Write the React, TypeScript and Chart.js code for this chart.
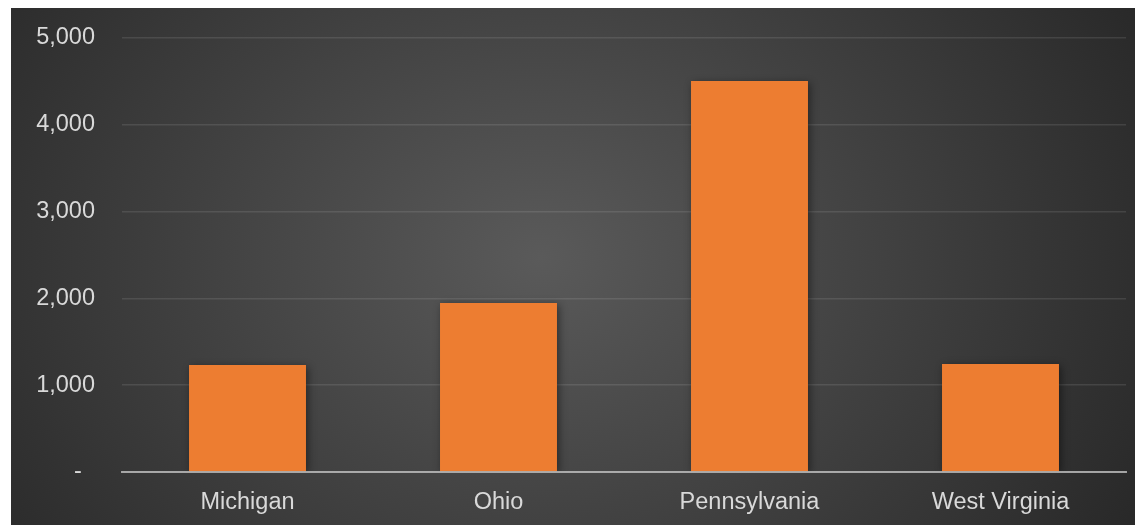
import React, { useEffect, useRef } from "react";
import { Chart, registerables } from "chart.js";

Chart.register(...registerables);

const categories = ["Michigan", "Ohio", "Pennsylvania", "West Virginia"];
const values = [1233, 1947, 4505, 1244];
const yTicks = [0, 1000, 2000, 3000, 4000, 5000];

const bgPlugin = {
  id: "bgGrad",
  beforeDraw(chart: any) {
    const { ctx, width, height } = chart;
    ctx.save();
    const cx = 530;
    const cy = 250;
    ctx.translate(cx, cy);
    ctx.scale(1.25, 1);
    const g = ctx.createRadialGradient(0, 0, 0, 0, 0, 560);
    g.addColorStop(0, "#5a5a5a");
    g.addColorStop(1, "#272727");
    ctx.fillStyle = g;
    ctx.fillRect(-cx / 1.25 - 10, -cy - 10, width / 1.25 + 20, height + 20);
    ctx.restore();
  },
  beforeDatasetsDraw(chart: any) {
    const ctx = chart.ctx;
    ctx.save();
    ctx.shadowColor = "rgba(0,0,0,0.45)";
    ctx.shadowBlur = 8;
    ctx.shadowOffsetX = 2;
    ctx.shadowOffsetY = 2;
  },
  afterDatasetsDraw(chart: any) {
    chart.ctx.restore();
  },
};

export default function App() {
  const ref = useRef<HTMLCanvasElement>(null);
  useEffect(() => {
    if (!ref.current) return;
    const chart = new Chart(ref.current, {
      type: "bar",
      data: {
        labels: categories,
        datasets: [
          {
            data: values,
            backgroundColor: "#ED7D31",
            borderWidth: 0,
            barPercentage: 1,
            categoryPercentage: 0.466,
          },
        ],
      },
      options: {
        animation: false,
        responsive: false,
        maintainAspectRatio: false,
        layout: { padding: { top: 30, right: 17, bottom: 0, left: 0 } },
        plugins: { legend: { display: false }, tooltip: { enabled: false } },
        scales: {
          x: {
            grid: { display: false, drawTicks: false },
            border: { display: true, color: "rgba(200,200,200,0.75)", width: 2, z: 1 },
            ticks: {
              color: "#d9d9d9",
              font: { family: "'Liberation Sans', Arial, sans-serif", size: 23.5 },
              padding: 16,
              maxRotation: 0,
            },
            afterFit(scale: any) {
              scale.height = 53;
              scale.paddingLeft = 0;
              scale.paddingRight = 0;
            },
          },
          y: {
            min: 0,
            max: 5000,
            afterBuildTicks(scale: any) {
              scale.ticks = yTicks.map((v) => ({ value: v }));
            },
            grid: { color: "rgba(255,255,255,0.1)", lineWidth: 1.5, drawTicks: false },
            border: { display: false },
            ticks: {
              color: "#d9d9d9",
              font: { family: "'Liberation Sans', Arial, sans-serif", size: 23.5 },
              padding: 27,
              callback: (v: any) => (Number(v) === 0 ? "-  " : Number(v).toLocaleString("en-US")),
            },
            afterFit(scale: any) {
              scale.width = 111;
              scale.paddingTop = 0;
              scale.paddingBottom = 0;
            },
          },
        },
      },
      plugins: [bgPlugin],
    });
    return () => chart.destroy();
  }, []);
  return (
    <div style={{ marginLeft: 3 }}>
      <canvas ref={ref} width={1132} height={517} style={{ display: "block", width: 1132, height: 517 }} />
    </div>
  );
}
